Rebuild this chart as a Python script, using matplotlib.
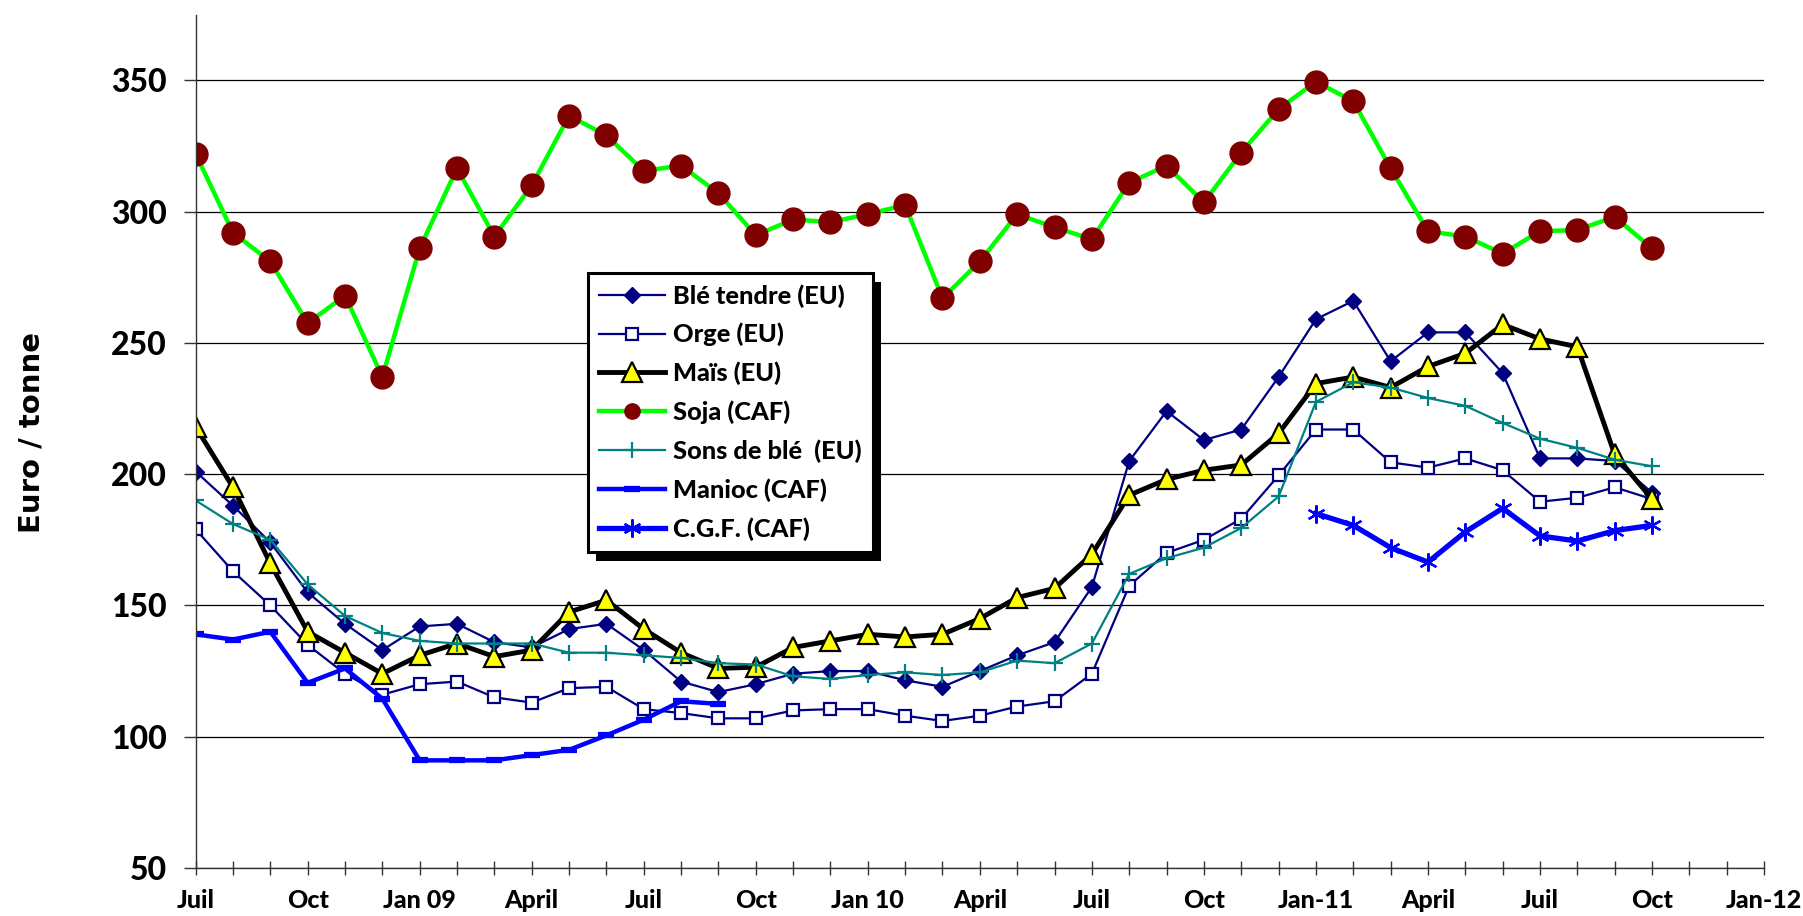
import numpy as np
import matplotlib
matplotlib.use('Agg')
import matplotlib.pyplot as plt
from matplotlib.patches import Rectangle

nan = np.nan

# monthly prices, Juil 2008 -> Oct 2011 (euro / tonne)
ble_tendre = [201, 188, 174, 155, 143, 133, 142, 143, 136, 134,
              141, 143, 133, 121, 117, 120, 124, 125, 125, 121.5,
              119, 125, 131, 136, 157, 205, 224, 213, 217, 237,
              259, 266, 243, 254, 254, 238.5, 206, 206, 205, 193]
orge = [179, 163, 150, 135, 124, 116, 120, 121, 115, 113,
        118.5, 119, 110.5, 109, 107, 107, 110, 110.5, 110.5, 108,
        106, 108, 111.5, 113.5, 124, 157.5, 170, 175, 183, 199.5,
        217, 217, 204.5, 202.5, 206, 201.5, 189.5, 191, 195, 190.5]
mais = [218, 195, 166, 140, 132, 124, 131, 135.5, 130.5, 133,
        147.5, 152, 141, 132, 126, 126.5, 134, 136.5, 139, 138,
        139, 145, 153, 156.5, 169.5, 192, 198, 201.5, 203.5, 215.5,
        234.5, 237, 233, 241, 246, 257, 251.5, 248.5, 207.5, 190.5]
soja = [322, 292, 281, 257.5, 268, 237, 286, 316.5, 290.5, 310,
        336.5, 329, 315.5, 317.5, 307, 291, 297, 296, 299, 302.5,
        267, 281, 299, 294, 289.5, 311, 317.5, 303.5, 322.5, 339,
        349.5, 342, 316.5, 292.5, 290.5, 284, 292.5, 293, 298, 286]
sons_ble = [190, 181, 175, 158, 146, 139.5, 136.5, 135.5, 135.5, 135.5,
            132, 132, 131, 130, 128, 127.5, 123, 122, 123.5, 124.5,
            123.5, 124.5, 129, 128, 135.5, 162, 168, 172, 179.5, 191.5,
            227.5, 235, 233, 229, 226, 219.5, 213.5, 210, 205.5, 203]
manioc = [139, 137, 140, 120.5, 126, 114.5, 91, 91, 91, 93,
          95, 100.5, 106.5, 113.5, 112.5] + [nan] * 25
cgf = [nan] * 30 + [185, 180.5, 172, 166.5, 178, 187, 176.5, 174.5, 178.5, 180.5]

tick_labels = ['Juil', 'Oct', 'Jan 09', 'April', 'Juil', 'Oct', 'Jan 10', 'April',
               'Juil', 'Oct', 'Jan-11', 'April', 'Juil', 'Oct', 'Jan-12']
months = np.arange(len(soja))

fig = plt.figure(figsize=(18.03, 9.16), dpi=100)
ax = fig.add_axes([0.1085, 0.0524, 0.8699, 0.9316])

ax.plot(months, ble_tendre, color='#000080', lw=1.6, marker='D', ms=8,
        mfc='#000080', mec='#000080', label='Blé tendre (EU)')
ax.plot(months, orge, color='#000080', lw=1.6, marker='s', ms=9,
        mfc='white', mec='#000080', mew=1.6, label='Orge (EU)')
ax.plot(months, mais, color='black', lw=3.5, marker='^', ms=14,
        mfc='#FFFF00', mec='black', mew=1.6, label='Maïs (EU)')
ax.plot(months, soja, color='#00FF00', lw=3.2, marker='o', ms=16.5,
        mfc='#800000', mec='#800000', label='Soja (CAF)')
ax.plot(months, sons_ble, color='#008080', lw=1.6, marker='+', ms=12,
        mew=1.6, label='Sons de blé  (EU)')
ax.plot(months, manioc, color='#0000FF', lw=3.2, marker='_', ms=12,
        mew=4.5, label='Manioc (CAF)')
ax.plot(months, cgf, color='#0000FF', lw=3.8, marker=(6, 2, 0), ms=13,
        mew=1.6, label='C.G.F. (CAF)')

ax.set_xlim(0, 42)
ax.set_ylim(50, 375)
ax.set_xticks(np.arange(0, 43, 3))
ax.set_xticks(np.arange(0, 43, 1), minor=True)
ax.set_xticklabels(tick_labels)
ax.set_yticks(np.arange(50, 351, 50))

ax.grid(axis='y', color='black', lw=0.9, zorder=0)
ax.set_axisbelow(True)
for s in ['top', 'right']:
    ax.spines[s].set_visible(False)
for s in ['left', 'bottom']:
    ax.spines[s].set_linewidth(1.0)
    ax.spines[s].set_color('#333333')

ax.tick_params(axis='x', which='both', direction='inout', length=10, width=1.0,
               pad=10, color='#333333')
ax.tick_params(axis='y', direction='out', length=9, width=1.0, pad=12, color='#333333')
for lab in ax.get_xticklabels():
    lab.set_fontfamily('Lato')
    lab.set_fontweight('black')
    lab.set_fontsize(18)
for lab in ax.get_yticklabels():
    lab.set_fontfamily('Lato')
    lab.set_fontweight('black')
    lab.set_fontsize(23)

ax.set_ylabel('Euro / tonne', fontsize=21, fontweight='bold', family='DejaVu Sans')
ax.yaxis.set_label_coords(-0.0955, 0.51)

leg = ax.legend(loc='center', bbox_to_anchor=(0.341, 0.534), frameon=True,
                fancybox=False, prop={'family': 'Lato', 'weight': 'black', 'size': 18.3},
                handlelength=2.6, handletextpad=0.3, labelspacing=0.6,
                borderpad=0.45, borderaxespad=0, framealpha=1)
leg.get_frame().set_facecolor('white')
leg.get_frame().set_edgecolor('black')
leg.get_frame().set_linewidth(2.2)
leg.set_zorder(10)
leg.legend_handles[3].set_markersize(11)

# drop shadow behind the legend box
fig.canvas.draw()
bb = leg.get_window_extent()
shadow = Rectangle((bb.x0 + 8, bb.y0 - 9), bb.width, bb.height, transform=None,
                   facecolor='black', edgecolor='none', zorder=9)
ax.add_artist(shadow)
shadow.set_clip_on(False)

fig.savefig('out.png', dpi=100)
